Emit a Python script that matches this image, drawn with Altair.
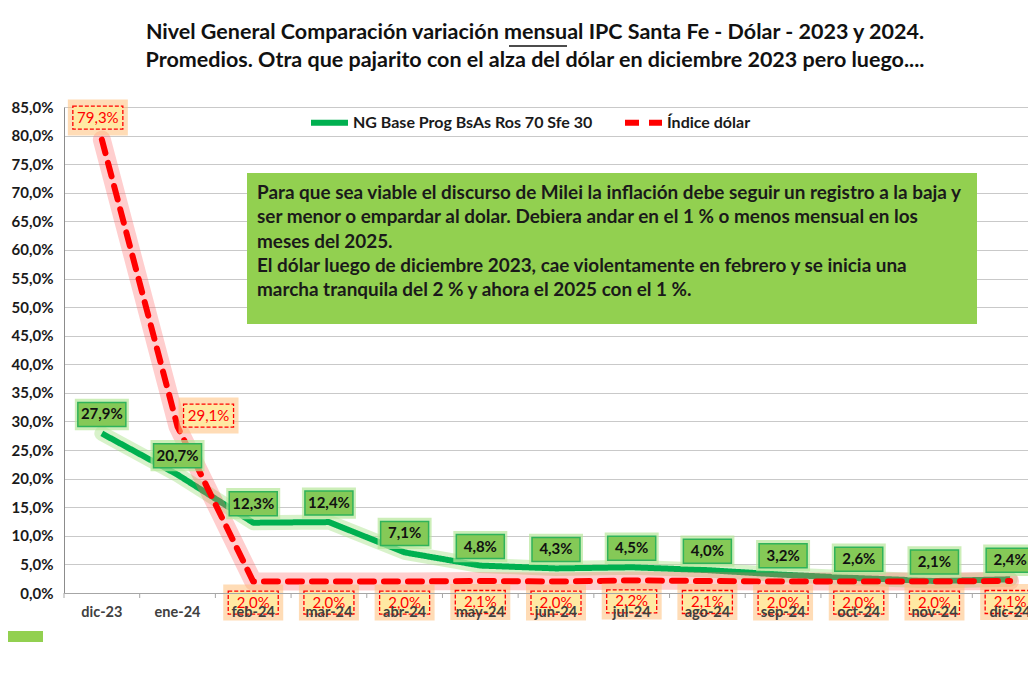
import altair as alt
import pandas as pd

months = ["dic-23", "ene-24", "feb-24", "mar-24", "abr-24", "may-24", "jun-24",
          "jul-24", "ago-24", "sep-24", "oct-24", "nov-24", "dic-24"]
ng_values = [27.9, 20.7, 12.3, 12.4, 7.1, 4.8, 4.3, 4.5, 4.0, 3.2, 2.6, 2.1, 2.4]
dolar_values = [79.3, 29.1, 2.0, 2.0, 2.0, 2.1, 2.0, 2.2, 2.1, 2.0, 2.0, 2.0, 2.1]
series_names = ["NG Base Prog BsAs Ros 70 Sfe 30", "Índice dólar"]
y_ticks = [0, 5, 10, 15, 20, 25, 30, 35, 40, 45, 50, 55, 60, 65, 70, 75, 80, 85]
title_lines = [
    "Nivel General Comparación variación mensual IPC Santa Fe - Dólar - 2023 y 2024.",
    "Promedios. Otra que pajarito con el alza del dólar en diciembre 2023 pero luego....",
]
note_lines = [
    "Para que sea viable el discurso de Milei la inflación debe seguir un registro a la baja  y",
    "ser menor o empardar al dolar. Debiera andar en  el 1 % o menos mensual en los",
    "meses del 2025.",
    "El dólar luego de diciembre 2023, cae violentamente en febrero y se inicia una",
    "marcha tranquila del 2 % y ahora el 2025 con el 1 %.",
]

rows = []
for i, m in enumerate(months):
    rows.append({"mes": m, "idx": i, "serie": series_names[0], "v": ng_values[i]})
    rows.append({"mes": m, "idx": i, "serie": series_names[1], "v": dolar_values[i]})
df = pd.DataFrame(rows)

FONT = "Lato"
W, H = 964, 486

xscale = alt.Scale(domain=months, range=[0, 984], paddingInner=0, paddingOuter=0)
yscale = alt.Scale(domain=[0, 85], nice=False, zero=True)

x_axis = alt.Axis(title=None, labelAngle=0, ticks=False, labelFont=FONT,
                  labelFontSize=14.5, labelFontWeight="bold", labelColor="#404040",
                  labelPadding=12, domainColor="#a6a6a6", zindex=1)
base = alt.Chart(df)
X = alt.X("mes:N", scale=xscale, sort=months, axis=x_axis)
Y = alt.Y("v:Q", scale=yscale,
          axis=alt.Axis(title=None, values=y_ticks, grid=True, gridColor="#c9c9c9",
                        ticks=False, labelFont=FONT, labelFontSize=15,
                        labelFontWeight="bold", labelColor="#1a1a1a", labelPadding=11,
                        domainColor="#8c8c8c",
                        labelExpr="replace(format(datum.value, '.1f'), '.', ',') + '%'"))

fmt = "replace(format(datum.v, '.1f'), '.', ',') + '%'"

ng = base.transform_filter(alt.datum.serie == series_names[0])
dl = base.transform_filter(alt.datum.serie == series_names[1])

# tick marks between categories
ticks = ng.mark_rule(color="#a6a6a6", strokeWidth=1).encode(
    x=alt.X("mes:N", scale=xscale, sort=months, bandPosition=0, axis=x_axis),
    y=alt.value(H), y2=alt.value(H + 5))

ng_glow = ng.mark_line(color="#A8E38A", strokeWidth=15, opacity=0.45,
                       strokeCap="round", strokeJoin="round").encode(x=X, y=Y)
dl_glow = dl.mark_line(color="#FF6B6B", strokeWidth=18, opacity=0.33,
                       strokeCap="round", strokeJoin="round").encode(x=X, y=Y)

color = alt.Color("serie:N", scale=alt.Scale(domain=series_names, range=["#00B050", "#FF0000"]),
                  legend=alt.Legend(title=None, orient="none", legendX=244, legendY=-6,
                                    direction="horizontal", symbolType="stroke",
                                    symbolSize=1369, symbolStrokeWidth=6,
                                    labelFont=FONT, labelFontSize=16, labelFontWeight="bold",
                                    labelColor="#1a1a1a", labelLimit=500,
                                    columnPadding=20, labelOffset=2))
dash = alt.StrokeDash("serie:N", scale=alt.Scale(domain=series_names, range=[[1, 0], [14, 10]]),
                      legend=None)

ng_line = ng.mark_line(strokeWidth=6, strokeJoin="round").encode(x=X, y=Y, color=color, strokeDash=dash)
dl_line = dl.mark_line(strokeWidth=6, strokeCap="round", strokeJoin="round").encode(
    x=X, y=Y, color=color, strokeDash=dash)

# green labels
g_path = "M-1,-0.5H1V0.5H-1Z"
g_glow_path = "M-1,-0.58H1V0.58H-1Z"
ng_lbl_glow = ng.mark_point(shape=g_glow_path, size=54 ** 2, filled=True, fill="#B6E79A",
                            opacity=0.7, strokeWidth=0, yOffset=-19).encode(x=X, y=Y)
ng_lbl_box = ng.mark_point(shape=g_path, size=48 ** 2, filled=True, fill="#85C957",
                           stroke="#2FB35A", strokeWidth=1.5, opacity=1, yOffset=-19).encode(x=X, y=Y)
ng_lbl_txt = ng.transform_calculate(t=fmt).mark_text(
    font=FONT, fontSize=15, fontWeight="bold", color="#111111", yOffset=-19).encode(
    x=X, y=Y, text="t:N")

# red labels
r_path = "M-1,-0.46H1V0.46H-1Z"
r_glow_path = "M-1,-0.6H1V0.6H-1Z"


def red_label(sub, dx, dy):
    glow = sub.mark_point(shape=r_glow_path, size=60 ** 2, filled=True, fill="#FFC07A",
                          opacity=0.55, strokeWidth=0, xOffset=dx, yOffset=dy).encode(x=X, y=Y)
    box = sub.mark_point(shape=r_path, size=50 ** 2, filled=True, fill="#FFE9A3",
                         stroke="#FF0000", strokeWidth=1.3, strokeDash=[4, 2], opacity=1,
                         xOffset=dx, yOffset=dy).encode(x=X, y=Y)
    txt = sub.transform_calculate(t=fmt).mark_text(
        font=FONT, fontSize=15, color="#FF0000", xOffset=dx, yOffset=dy).encode(
        x=X, y=Y, text="t:N")
    return [glow, box, txt]


red_first = dl.transform_filter(alt.datum.idx == 0)
red_second = dl.transform_filter(alt.datum.idx == 1)
red_rest = dl.transform_filter(alt.datum.idx >= 2)
red_layers = red_label(red_first, -4, -22) + red_label(red_second, 31, -11) + red_label(red_rest, 0, 21)

one = pd.DataFrame({"a": [0]})
# annotation box
note_box = alt.Chart(one).mark_rect(color="#92D050").encode(
    x=alt.value(183), x2=alt.value(913), y=alt.value(66), y2=alt.value(217))
note_txt = alt.Chart(one).mark_text(
    align="left", baseline="middle", font=FONT, fontSize=18.9, fontWeight="bold",
    color="#1a1a1a", lineHeight=24.3).encode(
    x=alt.value(193), y=alt.value(86), text=alt.value(note_lines))

title = alt.Chart(one).mark_text(
    align="center", baseline="middle", font=FONT, fontSize=21.5, fontWeight="bold",
    color="#111111", lineHeight=28).encode(
    x=alt.value(471), y=alt.value(-74), text=alt.value(title_lines))
underline = alt.Chart(one).mark_rule(color="#111111", strokeWidth=1.3).encode(
    x=alt.value(445), x2=alt.value(503), y=alt.value(-61))

legend_patch = alt.Chart(one).mark_rect(color="#92D050").encode(
    x=alt.value(-56), x2=alt.value(-21), y=alt.value(524), y2=alt.value(535))

chart = alt.layer(
    ng_glow, ticks, ng_line, dl_glow, dl_line, note_box, note_txt,
    ng_lbl_glow, ng_lbl_box, ng_lbl_txt, *red_layers, title, underline, legend_patch,
).properties(
    width=W, height=H,
    autosize=alt.AutoSizeParams(type="none"),
    padding={"left": 56, "top": 99, "right": 0, "bottom": 60},
).configure_view(stroke=None).configure(background="white")

chart.save("out.html", embed_options={"renderer": "svg", "actions": False})
